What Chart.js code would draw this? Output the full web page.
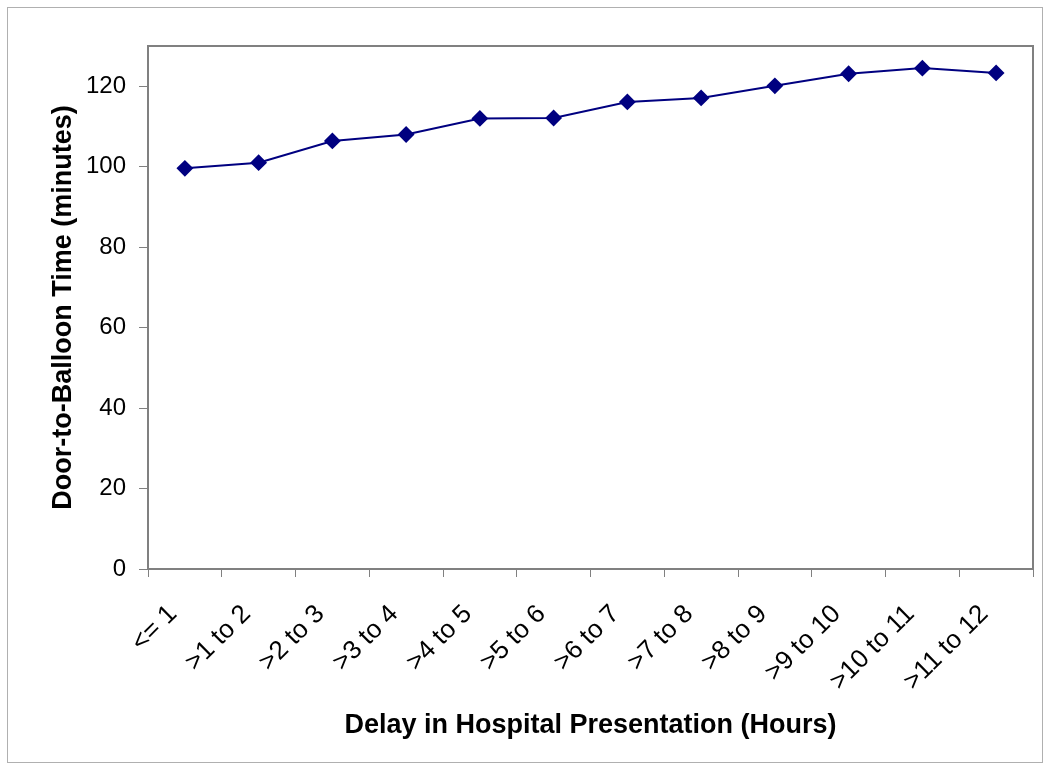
<!DOCTYPE html>
<html>
<head>
<meta charset="utf-8">
<script src="https://cdn.jsdelivr.net/npm/chart.js@4/dist/chart.umd.min.js"></script>
<style>
  html, body { margin: 0; padding: 0; background: #fff; }
  #wrap { width: 1050px; height: 770px; position: relative; }
</style>
</head>
<body>
<div id="wrap"><canvas id="chart"></canvas></div>
<script>
// categories and values
const delayLabels = ["<= 1", ">1 to 2", ">2 to 3", ">3 to 4", ">4 to 5", ">5 to 6",
  ">6 to 7", ">7 to 8", ">8 to 9", ">9 to 10", ">10 to 11", ">11 to 12"];
const doorToBalloon = [99.6, 101.0, 106.4, 108.0, 112.0, 112.1, 116.1, 117.1, 120.1, 123.1, 124.5, 123.3];
const yTicks = [0, 20, 40, 60, 80, 100, 120];

const FONT = "'Liberation Sans', Arial, sans-serif";
const GRAY = "#808080";

// frame around the plot area and the whole picture
const frames = {
  id: "frames",
  afterDraw(chart) {
    const { ctx, chartArea: a } = chart;
    ctx.save();
    ctx.strokeStyle = GRAY;
    ctx.lineWidth = 2;
    ctx.strokeRect(a.left, a.top, a.right - a.left, a.bottom - a.top);
    ctx.strokeStyle = "#b0b0b0";
    ctx.lineWidth = 1;
    ctx.strokeRect(7.5, 7.5, 1035, 755);
    ctx.restore();
  }
};

new Chart(document.getElementById("chart"), {
  type: "line",
  data: {
    labels: delayLabels,
    datasets: [{
      data: doorToBalloon,
      borderColor: "#000080",
      backgroundColor: "#000080",
      borderWidth: 2,
      pointStyle: "rectRot",
      pointRadius: 7,
      tension: 0
    }]
  },
  options: {
    responsive: true,
    maintainAspectRatio: false,
    animation: false,
    layout: { padding: { top: 46, right: 17, left: 0, bottom: 0 } },
    plugins: {
      legend: { display: false },
      tooltip: { enabled: false }
    },
    scales: {
      x: {
        offset: true,
        grid: {
          offset: true,
          drawOnChartArea: false,
          drawTicks: true,
          tickLength: 8,
          color: GRAY
        },
        border: { color: GRAY, width: 2 },
        ticks: {
          color: "#000",
          font: { family: FONT, size: 26 },
          minRotation: 45,
          maxRotation: 45,
          padding: 22,
          labelOffset: -12
        },
        title: {
          display: true,
          text: "Delay in Hospital Presentation (Hours)",
          color: "#000",
          font: { family: FONT, size: 27, weight: "bold" },
          padding: { top: 28, bottom: 28 }
        },
        afterFit(scale) { scale.height = 201; }
      },
      y: {
        min: 0,
        max: 130,
        grid: {
          drawOnChartArea: false,
          drawTicks: true,
          tickLength: 9,
          color: GRAY
        },
        border: { color: GRAY, width: 2 },
        ticks: {
          stepSize: 20,
          color: "#000",
          font: { family: FONT, size: 24 },
          padding: 13
        },
        afterBuildTicks(scale) {
          scale.ticks = yTicks.map(v => ({ value: v }));
        },
        title: {
          display: true,
          text: "Door-to-Balloon Time (minutes)",
          color: "#000",
          font: { family: FONT, size: 27, weight: "bold" },
          padding: { top: 47, bottom: 47 }
        },
        afterFit(scale) { scale.width = 148; }
      }
    }
  },
  plugins: [frames]
});
</script>
</body>
</html>
